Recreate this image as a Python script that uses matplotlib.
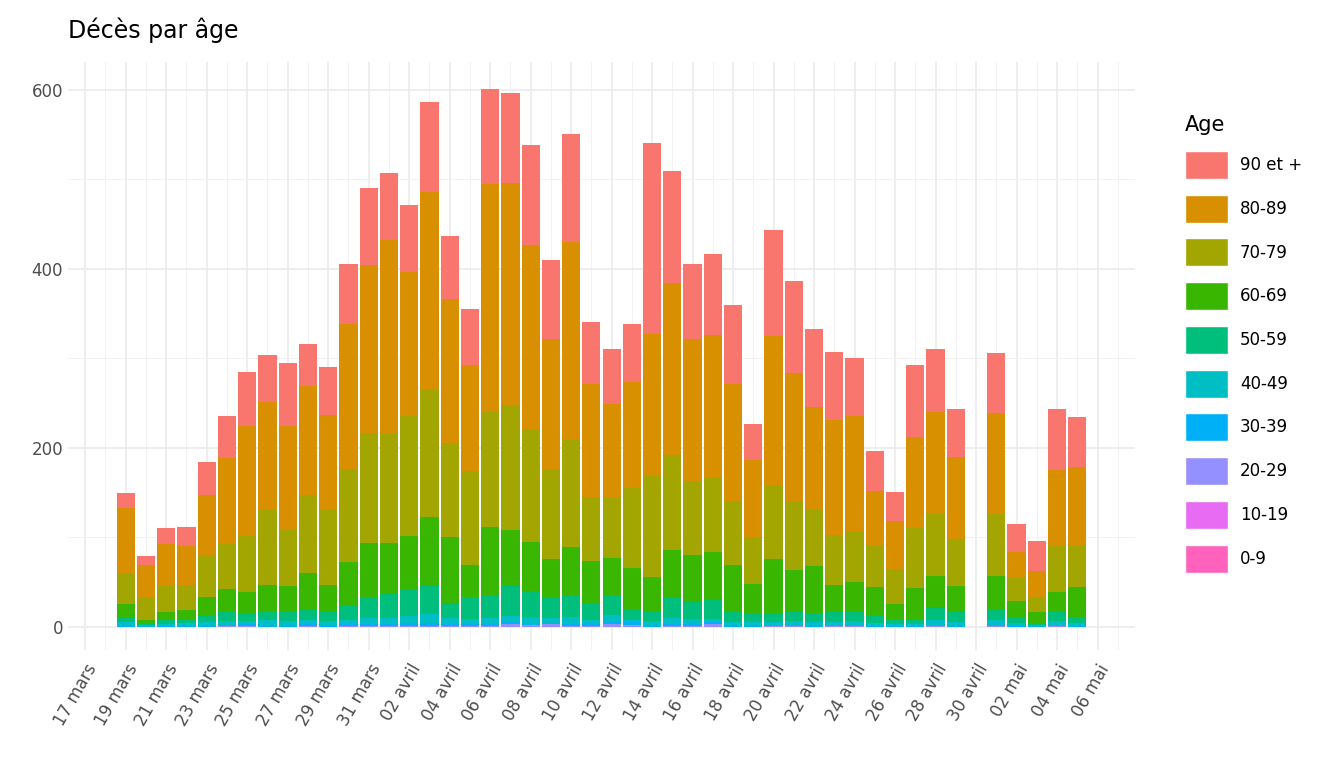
import matplotlib
matplotlib.use("Agg")
import matplotlib.pyplot as plt
from matplotlib.patches import Patch
import numpy as np

# day index: 0 = 17 mars; bars from 19 mars (2) to 05 mai (49)
days = np.arange(2, 50)
tick_days = np.arange(0, 51, 2)
tick_labels = ["17 mars", "19 mars", "21 mars", "23 mars", "25 mars", "27 mars", "29 mars",
               "31 mars", "02 avril", "04 avril", "06 avril", "08 avril", "10 avril",
               "12 avril", "14 avril", "16 avril", "18 avril", "20 avril", "22 avril",
               "24 avril", "26 avril", "28 avril", "30 avril", "02 mai", "04 mai", "06 mai"]

# cumulative heights (top of each age band)
tot = [149, 79, 110, 111, 184, 236, 285, 304, 295, 316, 290, 405, 490, 507, 471, 586,
       437, 355, 601, 596, 538, 410, 551, 341, 310, 338, 541, 509, 405, 417, 359, 226,
       443, 386, 333, 307, 300, 196, 150, 293, 310, 243, 0, 306, 115, 96, 243, 234]
c80 = [133, 69, 92, 90, 147, 188, 224, 251, 224, 269, 237, 338, 404, 432, 396, 486,
       366, 293, 495, 496, 427, 322, 430, 271, 249, 273, 327, 384, 322, 326, 271, 186,
       325, 284, 245, 231, 235, 152, 118, 212, 240, 190, 0, 239, 83, 62, 175, 179]
c70 = [60, 32, 45, 47, 80, 92, 101, 130, 108, 147, 130, 176, 216, 215, 236, 265,
       205, 174, 240, 248, 221, 175, 209, 145, 144, 155, 168, 192, 163, 167, 140, 100,
       157, 139, 130, 102, 106, 90, 64, 110, 126, 98, 0, 126, 55, 33, 90, 90]
c60 = [25, 8, 17, 19, 33, 42, 39, 47, 45, 60, 47, 72, 94, 94, 101, 123,
       100, 69, 111, 108, 95, 76, 89, 74, 77, 66, 56, 86, 80, 84, 69, 48,
       76, 63, 68, 47, 50, 44, 25, 43, 57, 45, 0, 57, 29, 16, 39, 44]
c50 = [10, 4, 7, 8, 12, 16, 15, 18, 16, 20, 17, 23, 33, 38, 42, 45,
       27, 33, 34, 47, 40, 33, 36, 25, 34, 20, 18, 32, 28, 30, 16, 15,
       15, 17, 15, 17, 17, 13, 8, 8, 21, 16, 0, 20, 10, 4, 16, 10]
c40 = [5, 2, 3, 4, 5, 6, 6, 7, 6, 7, 6, 8, 10, 10, 12, 14,
       10, 9, 10, 12, 11, 10, 11, 8, 13, 8, 6, 10, 9, 9, 5, 5,
       5, 6, 5, 5, 6, 4, 3, 3, 7, 5, 0, 7, 4, 2, 6, 4]
c30 = [2, 1, 1, 2, 2, 2, 3, 2, 2, 3, 2, 3, 3, 3, 4, 4,
       3, 3, 4, 6, 4, 4, 3, 3, 6, 5, 2, 3, 3, 5, 2, 2,
       2, 2, 2, 2, 2, 1, 1, 1, 2, 2, 0, 2, 1, 1, 2, 1]
c20 = [0, 0, 0, 0, 0, 1, 1, 0, 0, 1, 0, 1, 1, 1, 1, 1,
       1, 1, 1, 3, 2, 3, 1, 1, 3, 2, 0, 1, 1, 3, 0, 0,
       1, 1, 0, 1, 1, 0, 0, 0, 1, 0, 0, 1, 0, 0, 1, 0]
c10 = [0] * 48
c0 = [0] * 48

groups = ["0-9", "10-19", "20-29", "30-39", "40-49", "50-59", "60-69", "70-79", "80-89", "90 et +"]
colors = ["#FF62BC", "#E76BF3", "#9590FF", "#00B0F6", "#00BFC4", "#00BF7D",
          "#39B600", "#A3A500", "#D89000", "#F8766D"]
cums = [c0, c10, c20, c30, c40, c50, c60, c70, c80, tot]

fig = plt.figure(figsize=(13.44, 7.68), dpi=100)
ax = fig.add_axes([68 / 1344, 118 / 768, (1135 - 68) / 1344, (706 - 118) / 768])

prev = np.zeros(len(days))
for g, col, c in zip(groups, colors, cums):
    c = np.array(c, dtype=float)
    ax.bar(days, c - prev, bottom=prev, width=0.9, color=col, linewidth=0)
    prev = c

ax.set_xlim(-0.85, 51.85)
ax.set_ylim(-26, 631)
ax.set_xticks(tick_days)
ax.set_xticklabels(tick_labels, rotation=60, ha="right", rotation_mode="anchor",
                   fontsize=12, color="#4D4D4D")
ax.set_xticks(np.arange(1, 52, 2), minor=True)
ax.set_yticks([0, 200, 400, 600])
ax.set_yticks([100, 300, 500], minor=True)
ax.tick_params(axis="y", labelsize=12, labelcolor="#4D4D4D")
ax.tick_params(axis="x", pad=8)
ax.tick_params(which="both", length=0)
ax.grid(which="major", color="#EBEBEB", linewidth=1.2)
ax.grid(which="minor", color="#F2F2F2", linewidth=0.7)
ax.set_axisbelow(True)
for s in ax.spines.values():
    s.set_visible(False)

fig.text(68 / 1344, 1 - 30 / 768, "Décès par âge", fontsize=17, va="center", ha="left")

handles = [Patch(facecolor=col, edgecolor="white") for col in colors[::-1]]
leg = fig.legend(handles, groups[::-1], loc="upper left", bbox_to_anchor=(1170 / 1344, 1 - 100 / 768),
                 frameon=False, title="Age", title_fontsize=15, fontsize=12,
                 handlelength=2.6, handleheight=2.2, labelspacing=0.95, handletextpad=0.7,
                 alignment="left")

fig.savefig("out.png", dpi=100)
